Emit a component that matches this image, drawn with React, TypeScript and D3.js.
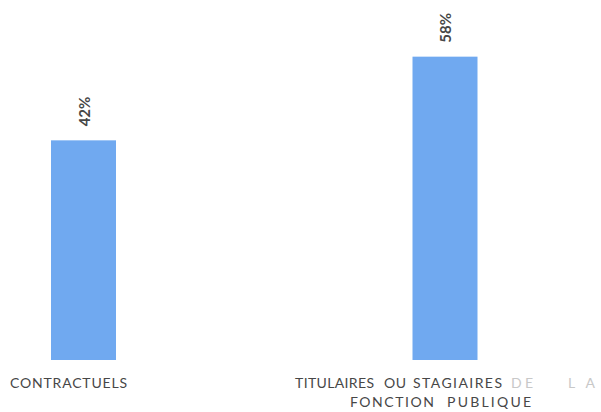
import React from 'react';
import * as d3 from 'd3';

const categories = ['CONTRACTUELS', 'TITULAIRES OU STAGIAIRES DE LA FONCTION PUBLIQUE'];
const values = [42, 58];
const valueLabels = ['42%', '58%'];

const width = 601;
const height = 412;
const baseline = 360;
const barWidth = 65;

const x = d3.scalePoint<string>().domain(categories).range([83.5, 445]);
const y = d3.scaleLinear().domain([0, 60]).range([baseline, baseline - 5.23 * 60]);

const textColor = '#474747';
const font = 'Lato, sans-serif';

// where each word of the axis labels sits (scanned labels have uneven spacing)
const labelWords = [
  { text: 'CONTRACTUELS', x: 10, y: 388, w: 117, faded: false },
  { text: 'TITULAIRES', x: 295, y: 388, w: 79, faded: false },
  { text: 'OU', x: 384, y: 388, w: 22, faded: false },
  { text: 'STAGIAIRES', x: 413, y: 388, w: 89, faded: false },
  { text: 'DE', x: 511, y: 388, w: 22, faded: true },
  { text: 'LA', x: 568, y: 388, w: 27, faded: true },
  { text: 'FONCTION', x: 350, y: 407, w: 84, faded: false },
  { text: 'PUBLIQUE', x: 447, y: 407, w: 84, faded: false },
];

export default function App() {
  return (
    <svg
      width={width}
      height={height}
      viewBox={`0 0 ${width} ${height}`}
      style={{ position: 'absolute', left: 0, top: 0, background: '#fff' }}
    >
      <g className="bars">
        {categories.map((c, i) => (
          <rect
            key={c}
            x={(x(c) as number) - barWidth / 2}
            y={y(values[i])}
            width={barWidth}
            height={baseline - y(values[i])}
            fill="#70a9f0"
          />
        ))}
      </g>
      <g className="values">
        {categories.map((c, i) => {
          const cx = x(c) as number;
          const ty = y(values[i]) - 14;
          return (
            <text
              key={c}
              transform={`translate(${cx},${ty}) rotate(-90)`}
              dominantBaseline="central"
              fontFamily={font}
              fontSize={15}
              fontWeight={700}
              fill={textColor}
            >
              {valueLabels[i]}
            </text>
          );
        })}
      </g>
      <g className="labels" fontFamily={font} fontSize={14}>
        {labelWords.map((w) => (
          <text
            key={w.text + w.x}
            x={w.x}
            y={w.y}
            textLength={w.w}
            lengthAdjust="spacing"
            fill={w.faded ? '#c8c8c8' : textColor}
          >
            {w.text}
          </text>
        ))}
      </g>
    </svg>
  );
}
